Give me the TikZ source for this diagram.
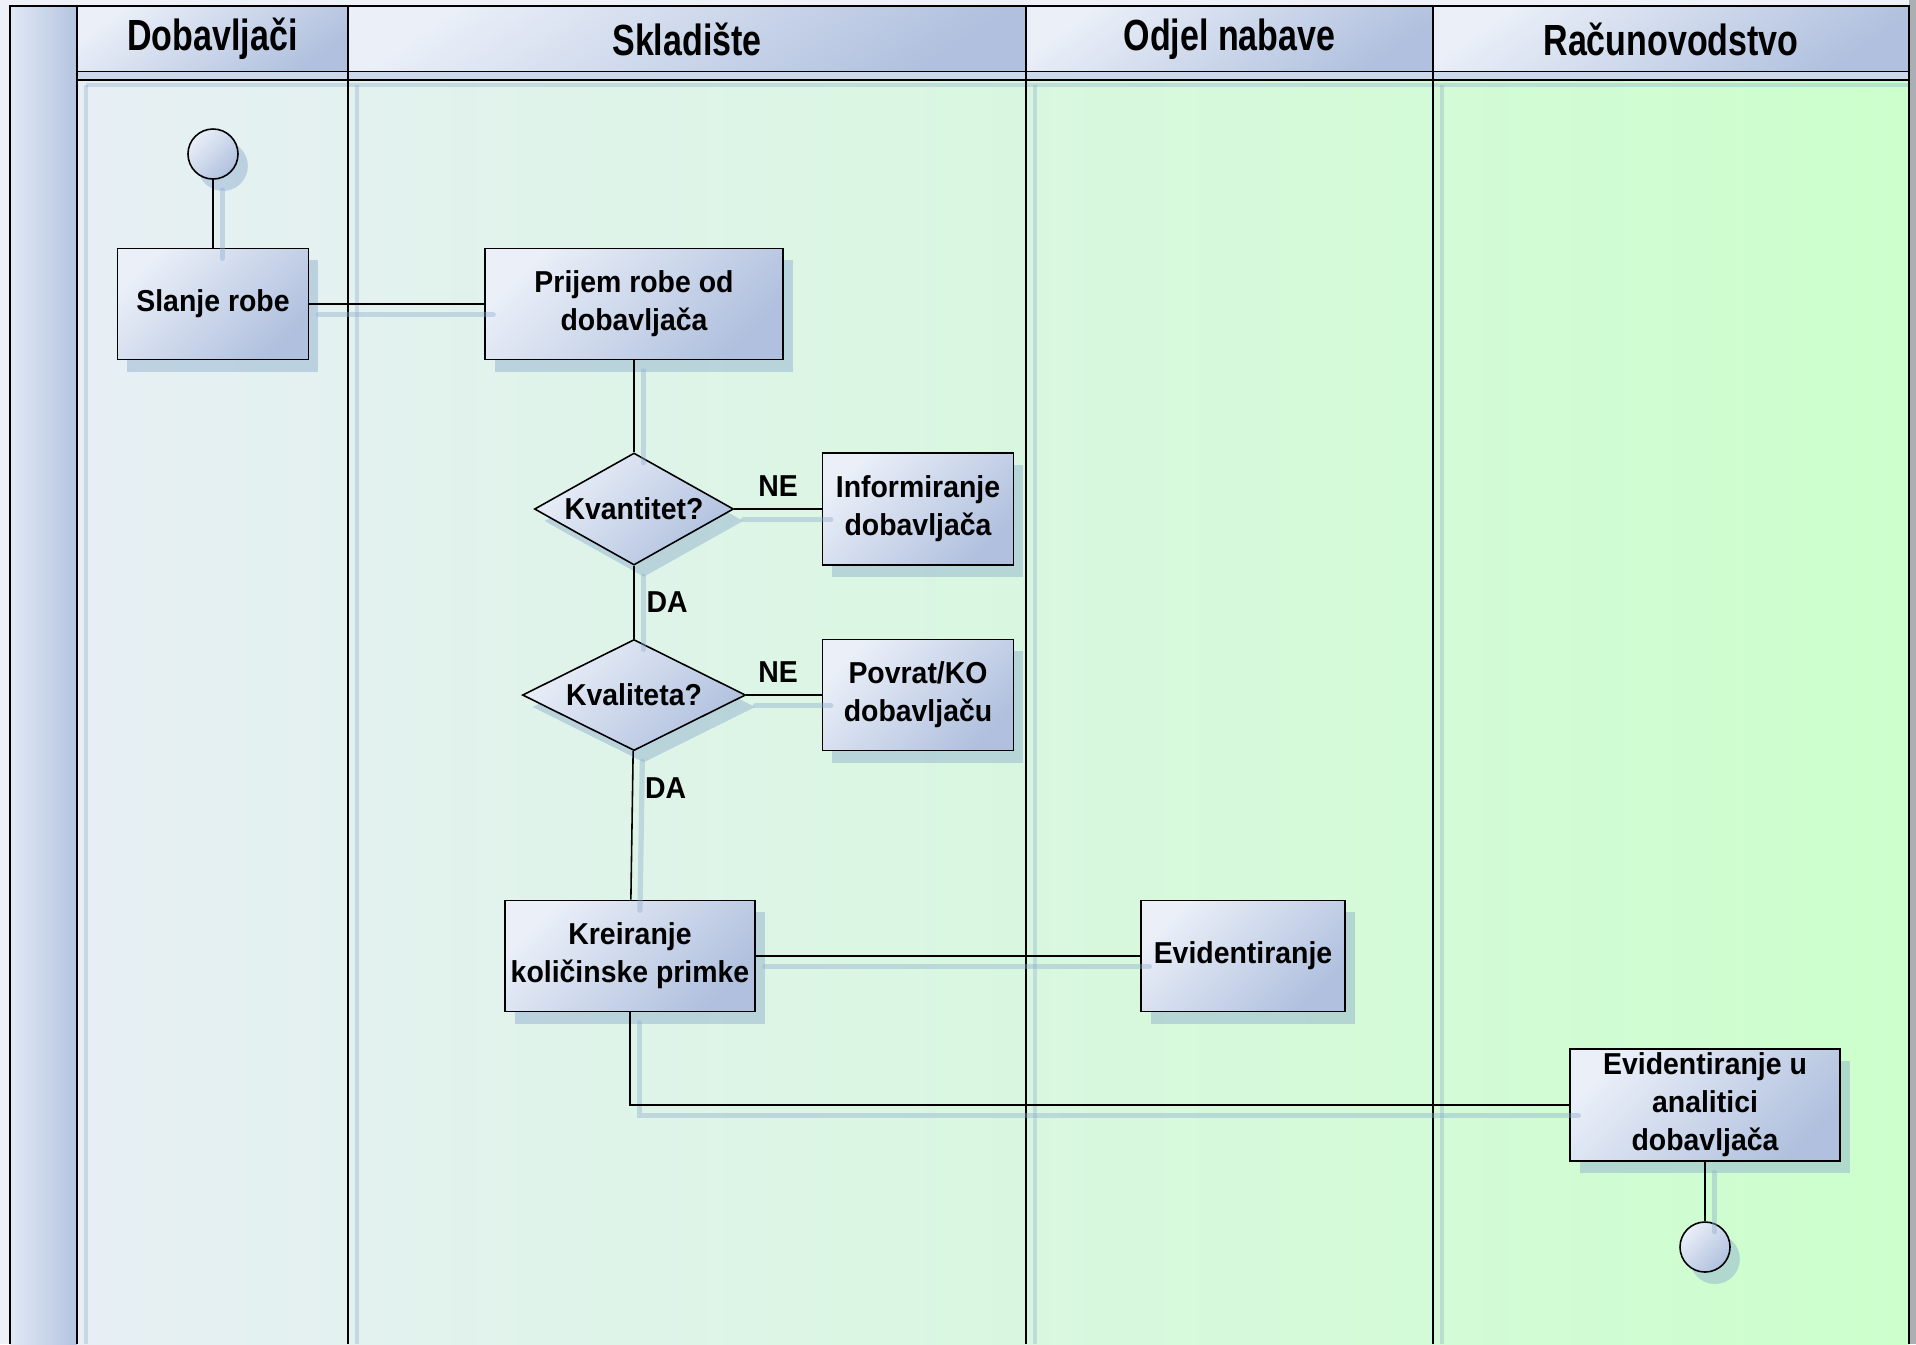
\documentclass[tikz,border=0pt]{standalone}
\usepackage{fontspec}
\setmainfont{Liberation Sans}
\newfontfamily\headfont[FakeStretch=0.78]{Liberation Sans}
\newfontfamily\taskfont[FakeStretch=0.94]{Liberation Sans}
\usepackage{tikz}
\usetikzlibrary{shapes.geometric,shadows}
\definecolor{boxlight}{RGB}{234,239,248}
\definecolor{boxdark}{RGB}{176,192,222}
\definecolor{lanelight}{RGB}{231,239,245}
\definecolor{lanemid}{RGB}{215,246,217}
\definecolor{lanegreen}{RGB}{204,255,204}
\definecolor{striplight}{RGB}{224,232,244}
\definecolor{stripdark}{RGB}{180,196,224}
\definecolor{bandblue}{RGB}{204,217,235}
\definecolor{shadeblue}{RGB}{140,172,205}
\definecolor{framebg}{RGB}{238,242,248}
\definecolor{rimgrey}{RGB}{170,175,180}

\tikzset{
  lanerule/.style={draw=black, line width=0.45pt},
  laneshade/.style={draw=shadeblue, draw opacity=0.35, line width=1.2pt},
  lanehead/.style={rectangle, draw, line width=0.45pt, top color=boxlight,
    bottom color=boxdark, shading angle=35, inner sep=0pt,
    minimum height=0.66cm, font=\headfont\bfseries\fontsize{12.4}{14}\selectfont},
  task/.style={rectangle, draw, line width=0.45pt, top color=boxlight,
    bottom color=boxdark, shading angle=45, align=center, inner sep=1pt,
    minimum height=1.11cm, font=\taskfont\bfseries\fontsize{8.6}{10.8}\selectfont,
    drop shadow={shadow xshift=2.8pt, shadow yshift=-3.4pt, fill=shadeblue, opacity=0.45}},
  choice/.style={task, diamond, inner sep=0pt},
  terminal/.style={circle, draw, line width=0.45pt, top color=boxlight,
    bottom color=boxdark, shading angle=45, inner sep=0pt, minimum size=0.5cm,
    drop shadow={shadow xshift=2.8pt, shadow yshift=-3.4pt, fill=shadeblue, opacity=0.45}},
  flow/.style={draw, line width=0.45pt,
    preaction={draw=shadeblue, draw opacity=0.4, line width=1.5pt, line cap=round,
      transform canvas={shift={(2.6pt,-3pt)}}}},
  answer/.style={font=\taskfont\bfseries\fontsize{8.6}{10.8}\selectfont}
}

\begin{document}
\begin{tikzpicture}[x=0.01cm,y=-0.01cm]
\useasboundingbox (0,0) rectangle (1916,1344);
\fill[framebg] (0,0) rectangle (1916,1344);
\fill[rimgrey] (1909,0) rectangle (1916,1344);

\shade[left color=lanelight, middle color=lanemid, right color=lanegreen] (77,80) rectangle (1909,1344);
\shade[left color=striplight, right color=stripdark] (10,6) rectangle (77,1344);
\draw[lanerule] (10,1344) -- (10,6) -- (77,6);

\node (hdsupp) at (212.5,39) [lanehead, minimum width=2.71cm] {Dobavljači};
\node (hdstore) at (687,39) [lanehead, minimum width=6.78cm] {Skladište};
\node (hdbuy) at (1229.5,39) [lanehead, minimum width=4.07cm] {Odjel nabave};
\node (hdacct) at (1671,39) [lanehead, minimum width=4.76cm] {Računovodstvo};

\fill[bandblue] (77,72) rectangle (1909,80);
\draw[lanerule] (77,80) -- (1909,80);
\draw[laneshade] (86,85) -- (1909,85);
\foreach \xx in {77,348,1026,1433,1909}
  \draw[lanerule] (\xx,6) -- (\xx,1344);
\foreach \xx in {86,357,1035,1442}
  \draw[laneshade] (\xx,85) -- (\xx,1344);

\node (start) at (213,154) [terminal] {};
\node (slanje) at (213,304) [task, minimum width=1.91cm] {Slanje robe};
\node (prijem) at (634,304) [task, minimum width=2.98cm] {Prijem robe od\\dobavljača};
\node (kvantitet) at (634,509) [choice, minimum width=1.99cm, minimum height=1.12cm, shape aspect=1.8] {Kvantitet?};
\node (inform) at (918,509) [task, minimum width=1.91cm, minimum height=1.12cm] {Informiranje\\dobavljača};
\node (kvaliteta) at (634,695) [choice, minimum width=2.23cm, minimum height=1.11cm, shape aspect=2] {Kvaliteta?};
\node (povrat) at (918,695) [task, minimum width=1.91cm] {Povrat/KO\\dobavljaču};
\node (primka) at (630,956) [task, minimum width=2.5cm] {Kreiranje\\količinske primke};
\node (evid) at (1243,956) [task, minimum width=2.04cm] {Evidentiranje};
\node (analitika) at (1705,1105) [task, minimum width=2.7cm, minimum height=1.12cm] {Evidentiranje u\\analitici\\dobavljača};
\node (end) at (1705,1247) [terminal] {};

\draw[flow] (start) -- (slanje);
\draw[flow] (slanje) -- (prijem);
\draw[flow] (prijem) -- (kvantitet);
\draw[flow] (kvantitet) -- node[answer, above] {NE} (inform);
\draw[flow] (kvantitet) -- node[answer, right] {DA} (kvaliteta);
\draw[flow] (kvaliteta) -- node[answer, above, pos=0.42] {NE} (povrat);
\draw[flow] (kvaliteta) -- node[answer, right, pos=0.25] {DA} (primka);
\draw[flow] (primka) -- (evid);
\draw[flow] (primka.south) |- (analitika.west);
\draw[flow] (analitika) -- (end);
\end{tikzpicture}
\end{document}
